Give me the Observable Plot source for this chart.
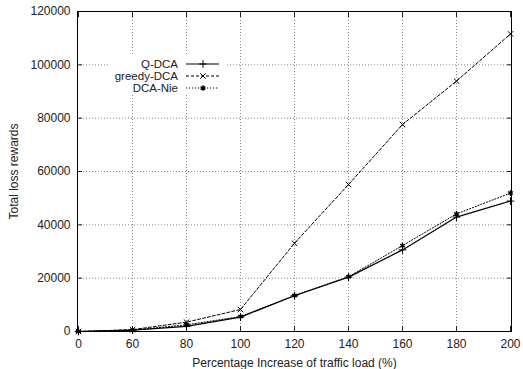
<!DOCTYPE html>
<html>
<head>
<meta charset="utf-8">
<script src="https://cdn.jsdelivr.net/npm/d3@7"></script>
<script src="https://cdn.jsdelivr.net/npm/@observablehq/plot@0.6"></script>
<style>
  html, body { margin: 0; padding: 0; background: #fff; }
  #chart { position: relative; width: 523px; height: 369px; }
  svg { font-family: "Liberation Sans", Arial, sans-serif; }
</style>
</head>
<body>
<div id="chart"></div>
<script>
const loadIncrease = [0, 60, 80, 100, 120, 140, 160, 180, 200];
const qdca    = [0, 500, 1900, 5400, 13400, 20400, 30600, 42900, 48900];
const greedy  = [0, 700, 3500, 8250, 33100, 55100, 77600, 93900, 111600];
const dcaNie  = [0, 500, 2500, 5600, 13500, 20500, 32200, 44100, 51900];
const yTicks = [0, 20000, 40000, 60000, 80000, 100000, 120000];
const seriesNames = ["Q-DCA", "greedy-DCA", "DCA-Nie"];
const seriesValues = [qdca, greedy, dcaNie];
const seriesSymbol = ["plus", "times", "asterisk"];
const seriesDash = [null, "3,2", "1.2,1.8"];
const seriesWidth = [1.2, 1, 1];

const rows = [];
seriesNames.forEach((s, i) => loadIncrease.forEach((x, j) => rows.push({series: s, x: String(x), y: seriesValues[i][j]})));

const xDomain = loadIncrease.map(String);
const marks = [
  Plot.gridX(xDomain.slice(1, -1), {stroke: "#888", strokeOpacity: 1, strokeDasharray: "1,2"}),
  Plot.gridY(yTicks.slice(1, -1), {stroke: "#888", strokeOpacity: 1, strokeDasharray: "1,2"}),
  Plot.axisX({anchor: "bottom", tickSize: 0, tickPadding: 8, fontSize: 12, label: "Percentage Increase of traffic load (%)", labelAnchor: "center", labelArrow: "none", labelOffset: 35}),
  Plot.axisX({anchor: "bottom", tickSize: -5, tickFormat: () => "", label: null}),
  Plot.axisX({anchor: "top", tickSize: -5, tickFormat: () => "", label: null}),
  Plot.axisY(yTicks, {anchor: "left", tickSize: 0, tickPadding: 7, fontSize: 12, tickFormat: d => String(d), label: "Total loss rewards", labelAnchor: "center", labelArrow: "none", labelOffset: 68}),
  Plot.axisY(yTicks, {anchor: "left", tickSize: -5, tickFormat: () => "", label: null}),
  Plot.axisY(yTicks, {anchor: "right", tickSize: -5, tickFormat: () => "", label: null}),
];
seriesNames.forEach((s, i) => {
  const d = rows.filter(r => r.series === s);
  marks.push(Plot.line(d, {x: "x", y: "y", stroke: "black", strokeWidth: seriesWidth[i], strokeDasharray: seriesDash[i]}));
  marks.push(Plot.dot(d, {x: "x", y: "y", stroke: "black", fill: "black", strokeWidth: i === 2 ? 1.4 : 1, symbol: () => seriesSymbol[i], r: 2.6}));
});
marks.push(Plot.frame({stroke: "black", strokeWidth: 1}));

const chart = Plot.plot({
  width: 523,
  height: 369,
  marginLeft: 77,
  marginRight: 12,
  marginTop: 11,
  marginBottom: 38,
  style: {fontFamily: "Liberation Sans, Arial, sans-serif", fontSize: "11.5px", color: "#222", background: "white"},
  x: {type: "point", domain: xDomain, padding: 0},
  y: {domain: [0, 120000]},
  symbol: {domain: seriesSymbol, range: seriesSymbol},
  marks
});
document.getElementById("chart").appendChild(chart);

// legend drawn inside the plot area
const svg = d3.select(chart);
const lg = svg.append("g").attr("transform", "translate(108,56)");
lg.append("rect").attr("width", 117).attr("height", 38).attr("fill", "white");
const sym = {plus: d3.symbolPlus, times: d3.symbolTimes, asterisk: d3.symbolAsterisk};
seriesNames.forEach((s, i) => {
  const g = lg.append("g").attr("transform", `translate(0,${8 + i * 12})`);
  g.append("text").attr("x", 70).attr("dy", "0.35em").attr("text-anchor", "end")
    .attr("font-size", 11.5).attr("fill", "#222").text(s);
  g.append("line").attr("x1", 78).attr("x2", 111).attr("stroke", "black")
    .attr("stroke-width", seriesWidth[i]).attr("stroke-dasharray", seriesDash[i]);
  g.append("path").attr("transform", "translate(95,0)")
    .attr("d", d3.symbol(sym[seriesSymbol[i]], Math.PI * 2.6 * 2.6)())
    .attr("stroke", "black").attr("fill", "black").attr("stroke-width", i === 2 ? 1.4 : 1);
});
</script>
</body>
</html>
